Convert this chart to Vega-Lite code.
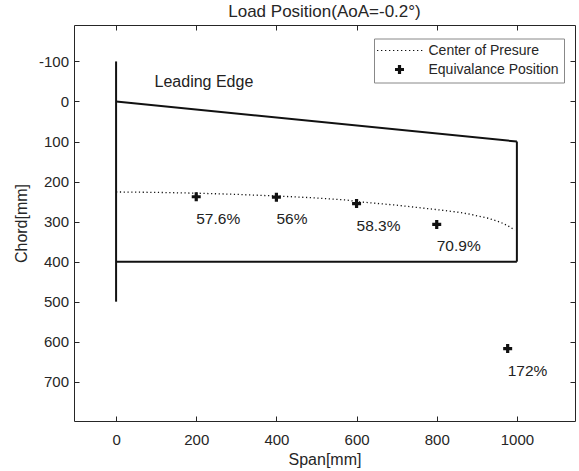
{
  "$schema": "https://vega.github.io/schema/vega-lite/v6.json",
  "width": 501,
  "height": 396,
  "autosize": {"type": "none"},
  "padding": {"left": 74, "top": 25, "right": 4, "bottom": 50},
  "title": {"text": "Load Position(AoA=-0.2°)", "fontSize": 17, "fontWeight": "normal", "font": "Liberation Sans", "color": "#262626", "offset": 4},
  "datasets": {
    "planform": [
      {"seg": "root", "i": 0, "span": 0, "chord": -100},
      {"seg": "root", "i": 1, "span": 0, "chord": 500},
      {"seg": "le", "i": 0, "span": 0, "chord": 0},
      {"seg": "le", "i": 1, "span": 1000, "chord": 100},
      {"seg": "tip", "i": 0, "span": 1000, "chord": 100},
      {"seg": "tip", "i": 1, "span": 1000, "chord": 400},
      {"seg": "te", "i": 0, "span": 0, "chord": 400},
      {"seg": "te", "i": 1, "span": 1000, "chord": 400}
    ],
    "cop": [
      {"span": 0, "chord": 226},
      {"span": 100, "chord": 227},
      {"span": 200, "chord": 229},
      {"span": 300, "chord": 232},
      {"span": 400, "chord": 236},
      {"span": 500, "chord": 241},
      {"span": 574, "chord": 246},
      {"span": 600, "chord": 250},
      {"span": 700, "chord": 259},
      {"span": 800, "chord": 270},
      {"span": 850, "chord": 276},
      {"span": 880, "chord": 281},
      {"span": 930, "chord": 292},
      {"span": 960, "chord": 302},
      {"span": 980, "chord": 312},
      {"span": 995, "chord": 321}
    ],
    "points": [
      {"span": 200, "chord": 238, "label": "57.6%", "series": "Equivalance Position"},
      {"span": 400, "chord": 239, "label": "56%", "series": "Equivalance Position"},
      {"span": 600, "chord": 255, "label": "58.3%", "series": "Equivalance Position"},
      {"span": 800, "chord": 307, "label": "70.9%", "series": "Equivalance Position"},
      {"span": 977, "chord": 617, "label": "172%", "series": "Equivalance Position"}
    ],
    "notes": [
      {"span": 96, "chord": -49, "note": "Leading Edge"}
    ]
  },
  "layer": [
    {
      "data": {"name": "planform"},
      "mark": {"type": "line", "color": "#111111", "strokeWidth": 2},
      "encoding": {
        "x": {"field": "span", "type": "quantitative", "scale": {"domain": [-105, 1145], "nice": false, "zero": false},
              "axis": {"orient": "bottom", "title": "Span[mm]", "values": [0, 200, 400, 600, 800, 1000], "format": "d", "labelExpr": "replace(datum.label, '−', '-')", "labelPadding": 16, "titleY": 38.5, "titleBaseline": "middle"}},
        "y": {"field": "chord", "type": "quantitative", "scale": {"domain": [-191, 798], "nice": false, "zero": false, "reverse": true},
              "axis": {"orient": "left", "title": "Chord[mm]", "values": [-100, 0, 100, 200, 300, 400, 500, 600, 700], "format": "d", "labelExpr": "replace(datum.label, '−', '-')", "labelPadding": 10.5, "titleX": -53, "titleBaseline": "middle"}},
        "detail": {"field": "seg"},
        "order": {"field": "i"}
      }
    },
    {
      "data": {"name": "cop"},
      "mark": {"type": "line", "color": "#111111", "strokeWidth": 1.3, "strokeDash": [1.2, 2.6]},
      "encoding": {
        "x": {"field": "span", "type": "quantitative", "axis": {"orient": "top", "labels": false, "title": null, "values": [0, 200, 400, 600, 800, 1000]}},
        "y": {"field": "chord", "type": "quantitative", "axis": {"orient": "right", "labels": false, "title": null, "values": [-100, 0, 100, 200, 300, 400, 500, 600, 700]}}
      }
    },
    {
      "data": {"name": "points"},
      "mark": {"type": "point", "filled": true, "size": 100, "color": "#111111", "opacity": 1},
      "encoding": {
        "x": {"field": "span", "type": "quantitative", "axis": null},
        "y": {"field": "chord", "type": "quantitative", "axis": null},
        "shape": {"field": "series", "type": "nominal",
          "scale": {"domain": ["Center of Presure", "Equivalance Position"],
                    "range": [
                      "M-4.5,-0.12h0.26v0.24h-0.26ZM-3.7,-0.12h0.26v0.24h-0.26ZM-2.9,-0.12h0.26v0.24h-0.26ZM-2.1,-0.12h0.26v0.24h-0.26ZM-1.3,-0.12h0.26v0.24h-0.26ZM-0.5,-0.12h0.26v0.24h-0.26ZM0.3,-0.12h0.26v0.24h-0.26ZM1.1,-0.12h0.26v0.24h-0.26ZM1.9,-0.12h0.26v0.24h-0.26ZM2.7,-0.12h0.26v0.24h-0.26ZM3.5,-0.12h0.26v0.24h-0.26ZM4.3,-0.12h0.26v0.24h-0.26Z",
                      "M-0.32,-0.9H0.32V-0.32H0.9V0.32H0.32V0.9H-0.32V0.32H-0.9V-0.32H-0.32Z"]},
          "legend": {"orient": "none", "legendX": 300, "legendY": 13.5, "title": null, "padding": 5,
            "strokeColor": "#888888", "fillColor": "white", "symbolSize": 100, "symbolOffset": 13.5, "labelOffset": 22,
            "labelFontSize": 14, "labelFont": "Liberation Sans", "labelColor": "#262626", "rowPadding": 4,
            "symbolFillColor": "#111111"}
        }
      }
    },
    {
      "data": {"name": "points"},
      "mark": {"type": "text", "align": "left", "baseline": "middle", "dx": 0, "dy": 22, "fontSize": 15.5, "font": "Liberation Sans", "color": "#222222"},
      "encoding": {
        "x": {"field": "span", "type": "quantitative", "axis": null},
        "y": {"field": "chord", "type": "quantitative", "axis": null},
        "text": {"field": "label"}
      }
    },
    {
      "data": {"name": "notes"},
      "mark": {"type": "text", "align": "left", "baseline": "middle", "fontSize": 16, "font": "Liberation Sans", "color": "#222222"},
      "encoding": {
        "x": {"field": "span", "type": "quantitative", "axis": null},
        "y": {"field": "chord", "type": "quantitative", "axis": null},
        "text": {"field": "note"}
      }
    }
  ],
  "resolve": {"axis": {"x": "independent", "y": "independent"}},
  "config": {
    "font": "Liberation Sans",
    "view": {"stroke": "#262626", "strokeWidth": 1},
    "axis": {
      "labelFont": "Liberation Sans", "labelFontSize": 15, "labelColor": "#262626",
      "titleFont": "Liberation Sans", "titleFontSize": 16, "titleFontWeight": "normal", "titleColor": "#262626",
      "tickColor": "#262626", "tickSize": -5, "tickWidth": 1, "grid": false, "domain": false
    }
  }
}
